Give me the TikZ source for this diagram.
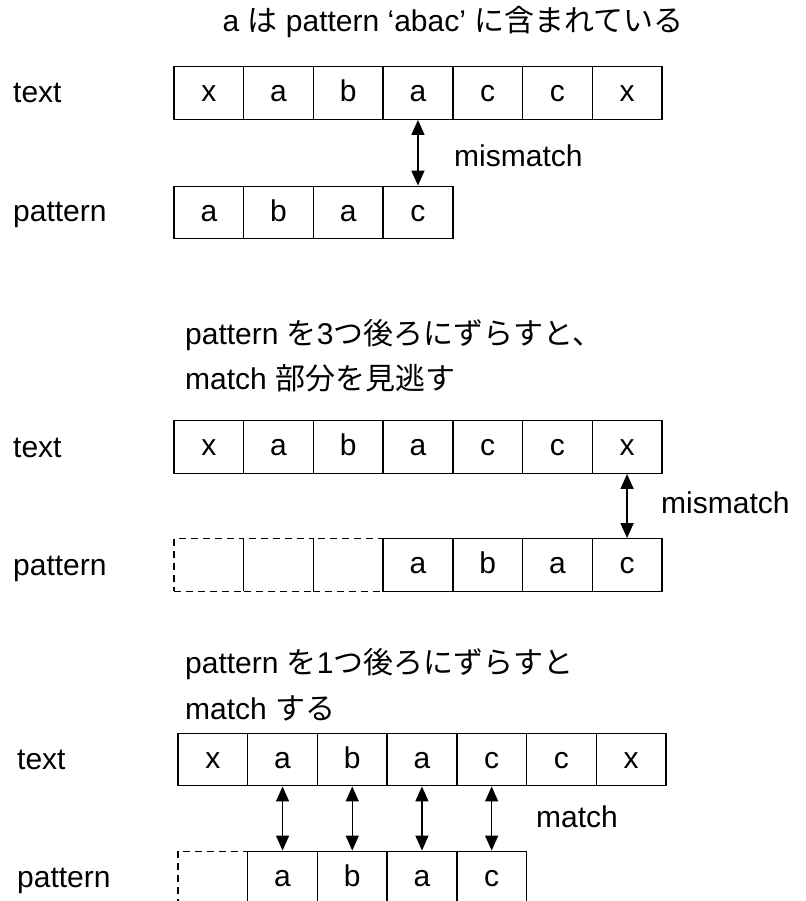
\documentclass[tikz,border=0pt]{standalone}
\usepackage{fontspec}
\setmainfont{Liberation Sans}
\newfontfamily\jpfont{Noto Sans CJK JP}
\usetikzlibrary{arrows.meta}
\tikzset{
    big/.style={font=\fontsize{30}{36}\selectfont},
    cell/.style={draw, big, line width=1.4pt, minimum width=69.7pt, minimum height=52.5pt, inner sep=0pt, text height=21pt, text depth=3.6pt},
    ghost/.style={cell, dash pattern=on 7pt off 5pt},
    lbl/.style={big, anchor=base west, inner sep=0pt},
    cmp/.style={{Triangle[length=15pt,width=13pt]}-{Triangle[length=15pt,width=13pt]}, line width=1.5pt}
}

\begin{document}
\begin{tikzpicture}[x=1pt, y=-1pt]
\useasboundingbox (0,0) rectangle (805,901);

% Title
\node[big, anchor=base, inner sep=0pt] (title) at (453,32) {a {\jpfont は} pattern ‘abac’ {\jpfont に含まれている}};

% Case 1: no shift
\node[lbl] (txtA) at (13,103) {text};
\node[lbl] (patA) at (13,222) {pattern};
\foreach \i/\c in {0/x,1/a,2/b,3/a,4/c,5/c,6/x}
    \node[cell] (ta\i) at ({174+69.7*(\i+0.5)},93) {\c};
\foreach \i/\c in {0/a,1/b,2/a,3/c}
    \node[cell] (pa\i) at ({174+69.7*(\i+0.5)},212.5) {\c};
\draw[cmp] (ta3.south) -- (pa3.north);
\node[lbl] (misA) at (454,167) {mismatch};

% Case 2: shift by 3
\node[lbl] (capB1) at (185,344) {pattern {\jpfont を}3{\jpfont つ後ろにずらすと、}};
\node[lbl] (capB2) at (185,389) {match {\jpfont 部分を見逃す}};
\node[lbl] (txtB) at (13,457) {text};
\node[lbl] (patB) at (13,575) {pattern};
\foreach \i/\c in {0/x,1/a,2/b,3/a,4/c,5/c,6/x}
    \node[cell] (tb\i) at ({174+69.7*(\i+0.5)},447) {\c};
\foreach \i/\c in {3/a,4/b,5/a,6/c}
    \node[cell] (pb\i) at ({174+69.7*(\i+0.5)},565) {\c};
\foreach \i in {0,1,2}
    \node[ghost] (pb\i) at ({174+69.7*(\i+0.5)},565) {};
\draw[cmp] (tb6.south) -- (pb6.north);
\node[lbl] (misB) at (661,513) {mismatch};

% Case 3: shift by 1
\node[lbl] (capC1) at (185,673) {pattern {\jpfont を}1{\jpfont つ後ろにずらすと}};
\node[lbl] (capC2) at (185,719) {match {\jpfont する}};
\node[lbl] (txtC) at (17,769) {text};
\node[lbl] (patC) at (17,887) {pattern};
\foreach \i/\c in {0/x,1/a,2/b,3/a,4/c,5/c,6/x}
    \node[cell] (tc\i) at ({178+69.7*(\i+0.5)},759.5) {\c};
\foreach \i/\c in {1/a,2/b,3/a,4/c}
    \node[cell] (pc\i) at ({178+69.7*(\i+0.5)},877.5) {\c};
\node[ghost] (pc0) at ({178+69.7*0.5},877.5) {};
\foreach \i in {1,2,3,4}
    \draw[cmp] (tc\i.south) -- (pc\i.north);
\node[lbl] (matC) at (536,827) {match};
\end{tikzpicture}
\end{document}
